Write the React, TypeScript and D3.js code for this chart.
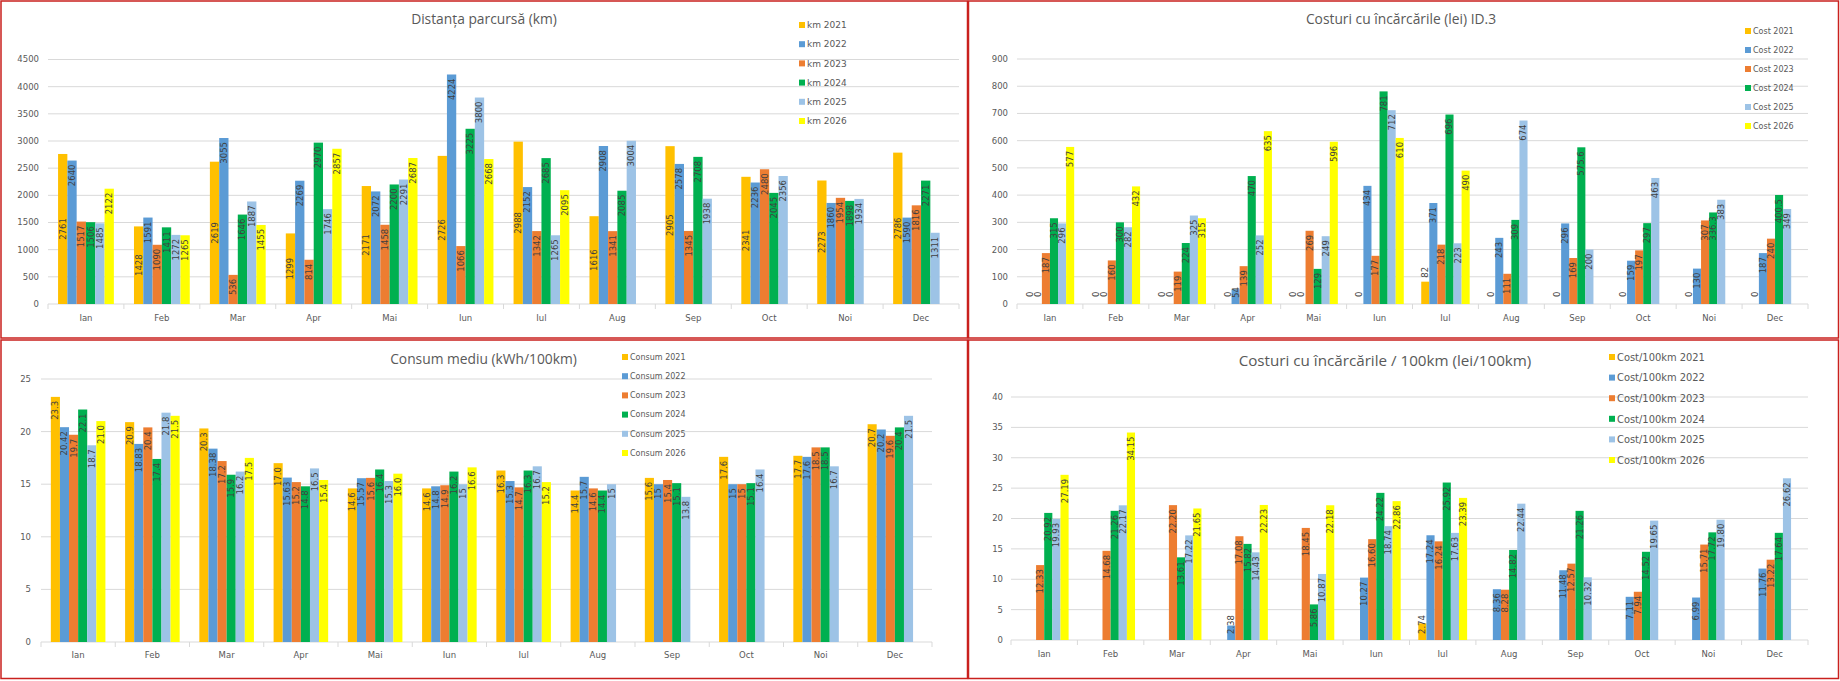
import React, { useEffect } from "react";
import * as d3 from "d3";

// ---------------- DATA ----------------
const months = ["Ian", "Feb", "Mar", "Apr", "Mai", "Iun", "Iul", "Aug", "Sep", "Oct", "Noi", "Dec"];
const years = ["2021", "2022", "2023", "2024", "2025", "2026"];

const km2021 = [2761, 1428, 2619, 1299, 2171, 2726, 2988, 1616, 2905, 2341, 2273, 2786];
const km2022 = [2640, 1591, 3055, 2269, 2072, 4224, 2152, 2908, 2578, 2236, 1860, 1590];
const km2023 = [1517, 1090, 536, 814, 1458, 1066, 1342, 1341, 1345, 2480, 1954, 1816];
const km2024 = [1506, 1411, 1646, 2970, 2200, 3225, 2685, 2085, 2708, 2045, 1898, 2271];
const km2025 = [1485, 1272, 1887, 1746, 2291, 3800, 1265, 3004, 1938, 2356, 1934, 1311];
const km2026 = [2122, 1265, 1455, 2857, 2687, 2668, 2095, null, null, null, null, null];

const cost2021 = [0, 0, 0, 0, 0, 0, 82, 0, 0, 0, 0, 0];
const cost2022 = [0, 0, 0, 54, 0, 434, 371, 243, 296, 159, 130, 187];
const cost2023 = [187, 160, 119, 139, 269, 177, 218, 111, 169, 197, 307, 240];
const cost2024 = [315, 300, 224, 470, 129, 781, 696, 309, 575.6, 297, 336.3, 400.5];
const cost2025 = [296, 282, 325, 252, 249, 712, 223, 674, 200, 463, 383, 349];
const cost2026 = [577, 432, 315, 635, 596, 610, 490, null, null, null, null, null];

const consum2021 = ["23.3", "20.9", "20.3", "17.0", "14.6", "14.6", "16.3", "14.4", "15.6", "17.6", "17.7", "20.7"];
const consum2022 = ["20.42", "18.83", "18.38", "15.63", "15.57", "14.8", "15.3", "15.7", "15", "15", "17.6", "20.2"];
const consum2023 = ["19.7", "20.4", "17.2", "15.2", "15.6", "14.9", "14.7", "14.6", "15.4", "15", "18.5", "19.6"];
const consum2024 = ["22.1", "17.4", "15.9", "14.8", "16.4", "16.2", "16.3", "14.4", "15.1", "15.1", "18.5", "20.4"];
const consum2025 = ["18.7", "21.8", "16.2", "16.5", "15.3", "15", "16.7", "15", "13.8", "16.4", "16.7", "21.5"];
const consum2026 = ["21.0", "21.5", "17.5", "15.4", "16.0", "16.6", "15.2", null, null, null, null, null];

const c100_2021 = [null, null, null, null, null, null, "2.74", null, null, null, null, null];
const c100_2022 = [null, null, null, "2.38", null, "10.27", "17.24", "8.36", "11.48", "7.11", "6.99", "11.76"];
const c100_2023 = ["12.33", "14.68", "22.20", "17.08", "18.45", "16.60", "16.24", "8.28", "12.57", "7.94", "15.71", "13.22"];
const c100_2024 = ["20.92", "21.26", "13.61", "15.82", "5.86", "24.22", "25.92", "14.82", "21.26", "14.52", "17.72", "17.64"];
const c100_2025 = ["19.93", "22.17", "17.22", "14.43", "10.87", "18.74", "17.63", "22.44", "10.32", "19.65", "19.80", "26.62"];
const c100_2026 = ["27.19", "34.15", "21.65", "22.23", "22.18", "22.86", "23.39", null, null, null, null, null];

// ---------------- STYLE ----------------
const seriesColors = ["#FFC000", "#5B9BD5", "#ED7D31", "#00B050", "#9DC3E6", "#FFFF00"];
const GRID = "#D9D9D9";
const AXIS_TXT = "#595959";
const LABEL_TXT = "#404040";
const NUM_FONT = "'DejaVu Sans', Verdana, sans-serif";
const TITLE_FONT = "'Open Sans', 'Noto Sans', sans-serif";
const NARROW_FONT = "'Liberation Sans Narrow', 'DejaVu Sans Condensed', 'Arial Narrow', sans-serif";
const BORDER = "#C9211E";

type Mode = "center" | "insideEnd" | "outsideEnd";
interface Series {
  name: string;
  values: (number | null)[];
  labels: (string | null)[];
  mode: Mode;
}

const toStr = (arr: (number | null)[]) => arr.map((v) => (v == null ? null : String(v)));
const toNum = (arr: (string | null)[]) => arr.map((v) => (v == null ? null : +v));

function textLen(s: string, fs: number) {
  let w = 0;
  for (const ch of s) w += ch === "." ? 0.318 : 0.636;
  return w * fs;
}

interface PanelProps {
  box: [number, number, number, number];
  left: number;
  right: number;
  top: number;
  bottom: number;
  yMax: number;
  yStep: number;
  yLabelX: number;
  title: string;
  titleX: number;
  titleY: number;
  titleSize: number;
  legendX: number;
  legendY: number;
  legendStep: number;
  legendFont: string;
  legendSize: number;
  monthY: number;
  series: Series[];
  showZero: boolean;
}

function Panel(p: PanelProps) {
  const y = d3.scaleLinear().domain([0, p.yMax]).range([p.bottom, p.top]);
  const x = d3.scaleBand<string>().domain(months).range([p.left, p.right]).paddingInner(0.265).paddingOuter(0.1325);
  const xs = d3.scaleBand<string>().domain(years).range([0, x.bandwidth()]).padding(0);
  const ticks = d3.range(0, p.yMax + p.yStep / 2, p.yStep);
  const step = (p.right - p.left) / months.length;
  const fs = 8.5;
  const [bx0, by0, bx1, by1] = p.box;

  return (
    <g>
      <rect x={bx0} y={by0} width={bx1 - bx0} height={by1 - by0} fill="#fff" stroke={BORDER} strokeWidth={1.5} />
      {ticks.map((t) => (
        <g key={t}>
          <line x1={p.left} x2={p.right} y1={y(t)} y2={y(t)} stroke={GRID} strokeWidth={1} />
          <text x={p.yLabelX} y={y(t)} dy="0.35em" textAnchor="end" fontFamily={NUM_FONT} fontSize={fs} fill={AXIS_TXT}>
            {t}
          </text>
        </g>
      ))}
      {d3.range(0, months.length + 1).map((i) => (
        <line key={i} x1={p.left + i * step} x2={p.left + i * step} y1={p.bottom} y2={p.bottom + 5} stroke={GRID} />
      ))}
      {months.map((m) => (
        <text key={m} x={(x(m) as number) + x.bandwidth() / 2} y={p.monthY} dy="0.35em" textAnchor="middle" fontFamily={NUM_FONT} fontSize={fs} fill={AXIS_TXT}>
          {m}
        </text>
      ))}
      {p.series.map((s, si) => (
        <g key={s.name}>
          {s.values.map((v, mi) => {
            if (v == null) return null;
            const bx = (x(months[mi]) as number) + (xs(years[si]) as number);
            const bw = xs.bandwidth();
            const top = y(v);
            return <rect key={mi} x={bx} y={top} width={bw} height={p.bottom - top} fill={seriesColors[si]} />;
          })}
        </g>
      ))}
      {p.series.map((s, si) => (
        <g key={s.name + "l"}>
          {s.values.map((v, mi) => {
            const lab = s.labels[mi];
            if (v == null || lab == null) return null;
            if (v === 0 && !p.showZero) return null;
            const cx = (x(months[mi]) as number) + (xs(years[si]) as number) + xs.bandwidth() / 2;
            const top = y(v);
            const len = textLen(lab, fs);
            let py: number;
            let anchor: "start" | "middle" | "end" = "start";
            if (v === 0) {
              py = p.bottom - 7;
            } else if (s.mode === "center") {
              py = (top + p.bottom) / 2;
              anchor = "middle";
            } else if (s.mode === "outsideEnd") {
              py = top - 4;
            } else {
              py = Math.min(top + 4 + len, p.bottom - 6);
            }
            return (
              <text
                key={mi}
                transform={`translate(${cx},${py}) rotate(-90)`}
                dy="0.35em"
                textAnchor={anchor}
                fontFamily={NUM_FONT}
                fontSize={fs}
                fill={LABEL_TXT}
              >
                {lab}
              </text>
            );
          })}
        </g>
      ))}
      <text x={p.titleX} y={p.titleY} textAnchor="middle" fontFamily={TITLE_FONT} fontSize={p.titleSize} fill={AXIS_TXT}>
        {p.title}
      </text>
      {p.series.map((s, si) => (
        <g key={s.name + "lg"}>
          <rect x={p.legendX} y={p.legendY + si * p.legendStep - 3} width={6} height={6} fill={seriesColors[si]} />
          <text x={p.legendX + 8} y={p.legendY + si * p.legendStep} dy="0.35em" fontFamily={p.legendFont} fontSize={p.legendSize} fill={AXIS_TXT}>
            {s.name}
          </text>
        </g>
      ))}
    </g>
  );
}

const kmValues = [km2021, km2022, km2023, km2024, km2025, km2026];
const costValues = [cost2021, cost2022, cost2023, cost2024, cost2025, cost2026];
const consumLabels = [consum2021, consum2022, consum2023, consum2024, consum2025, consum2026];
const c100Labels = [c100_2021, c100_2022, c100_2023, c100_2024, c100_2025, c100_2026];

export default function App() {
  useEffect(() => {
    document.body.style.margin = "0";
  }, []);

  const kmSeries: Series[] = kmValues.map((v, i) => ({
    name: `km ${years[i]}`,
    values: v,
    labels: toStr(v),
    mode: i === 0 ? "center" : "insideEnd",
  }));
  const costSeries: Series[] = costValues.map((v, i) => ({
    name: `Cost ${years[i]}`,
    values: v,
    labels: toStr(v),
    mode: i === 0 ? "outsideEnd" : "insideEnd",
  }));
  const consumSeries: Series[] = consumLabels.map((l, i) => ({
    name: `Consum ${years[i]}`,
    values: toNum(l),
    labels: l,
    mode: "insideEnd",
  }));
  const c100Series: Series[] = c100Labels.map((l, i) => ({
    name: `Cost/100km ${years[i]}`,
    values: toNum(l),
    labels: l,
    mode: "insideEnd",
  }));

  return (
    <svg width={1840} height={681} style={{ display: "block", background: "#fff" }}>
      <Panel
        box={[1, 1, 967.5, 338]}
        left={48}
        right={959}
        top={59.5}
        bottom={304}
        yMax={4500}
        yStep={500}
        yLabelX={39}
        title="Distanța parcursă (km)"
        titleX={484}
        titleY={24}
        titleSize={13.8}
        legendX={799}
        legendY={25}
        legendStep={19.2}
        legendFont={NUM_FONT}
        legendSize={9}
        monthY={318}
        series={kmSeries}
        showZero={true}
      />
      <Panel
        box={[968.5, 1, 1838.5, 338]}
        left={1017}
        right={1808}
        top={59}
        bottom={304}
        yMax={900}
        yStep={100}
        yLabelX={1008}
        title="Costuri cu încărcările (lei) ID.3"
        titleX={1401}
        titleY={24}
        titleSize={13.8}
        legendX={1745}
        legendY={31}
        legendStep={19}
        legendFont={NUM_FONT}
        legendSize={8}
        monthY={318}
        series={costSeries}
        showZero={true}
      />
      <Panel
        box={[1, 340, 967.5, 678.5]}
        left={41}
        right={932}
        top={379}
        bottom={642}
        yMax={25}
        yStep={5}
        yLabelX={31}
        title="Consum mediu (kWh/100km)"
        titleX={483.5}
        titleY={364}
        titleSize={13.8}
        legendX={622}
        legendY={357}
        legendStep={19.2}
        legendFont={NUM_FONT}
        legendSize={8}
        monthY={655}
        series={consumSeries}
        showZero={false}
      />
      <Panel
        box={[968.5, 340, 1838.5, 678.5]}
        left={1011}
        right={1808}
        top={397}
        bottom={640}
        yMax={40}
        yStep={5}
        yLabelX={1003}
        title="Costuri cu încărcările / 100km (lei/100km)"
        titleX={1385}
        titleY={366}
        titleSize={15.2}
        legendX={1609}
        legendY={357}
        legendStep={20.6}
        legendFont={NARROW_FONT}
        legendSize={11}
        monthY={654}
        series={c100Series}
        showZero={false}
      />
    </svg>
  );
}
